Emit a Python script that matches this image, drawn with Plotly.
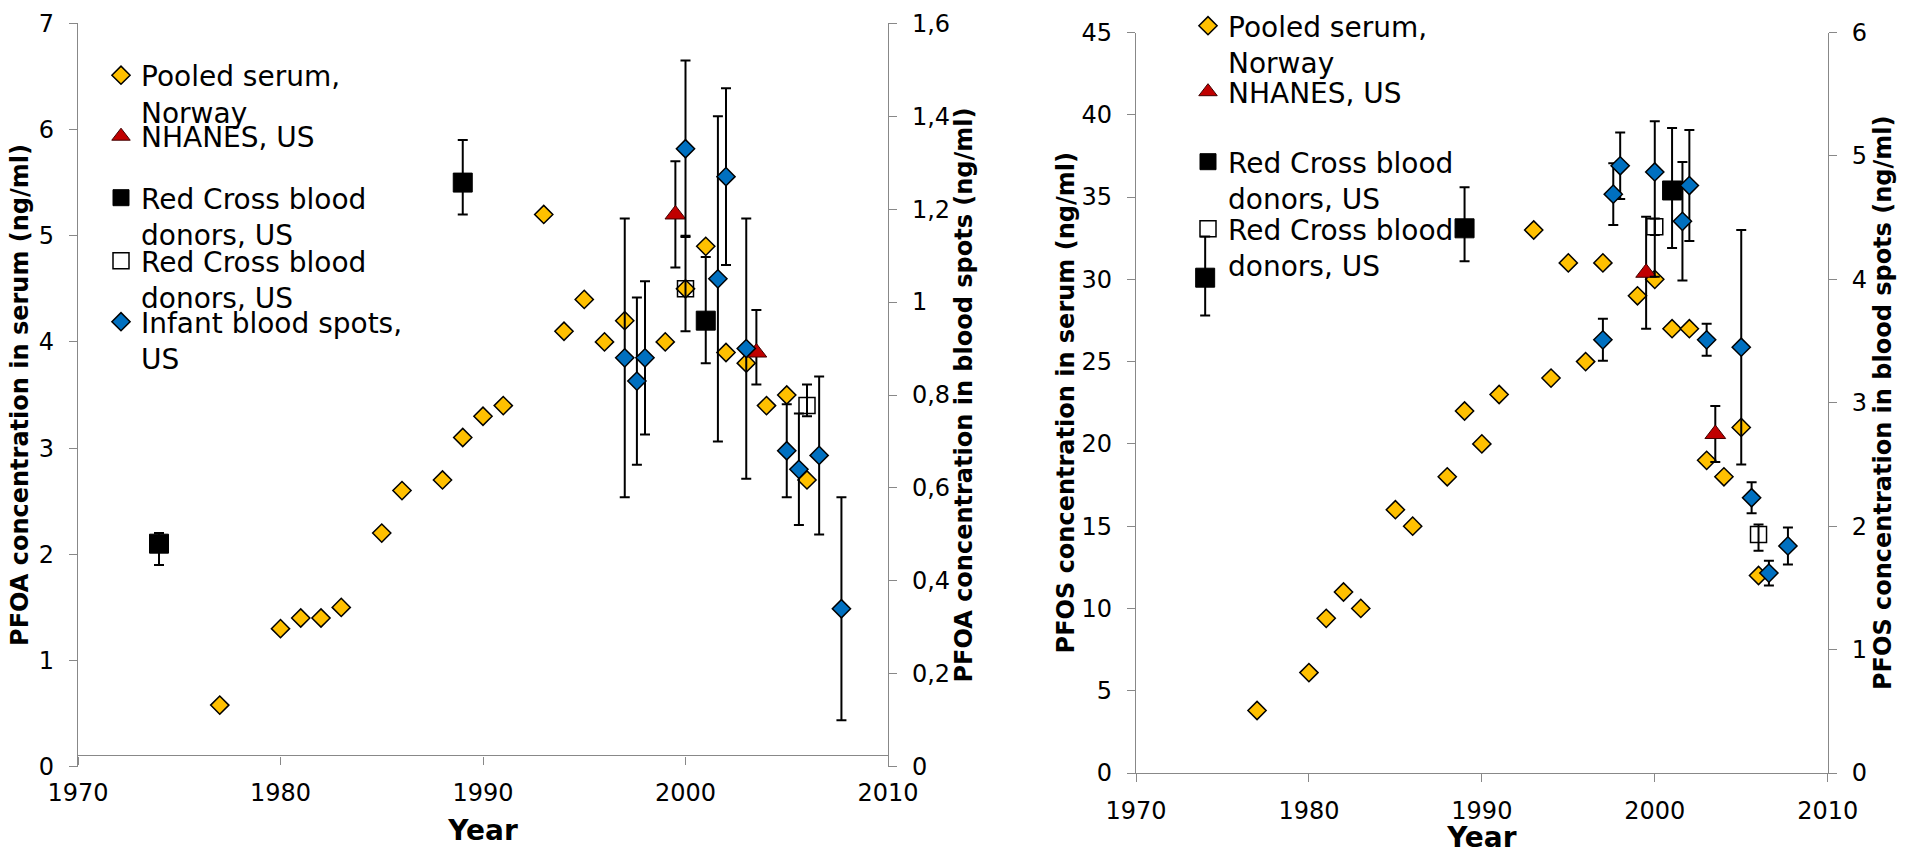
import plotly.graph_objects as go

# ---------------- data ----------------
years_pooled = [1977, 1980, 1981, 1982, 1983, 1985, 1986, 1988, 1989, 1990, 1991, 1993,
                1994, 1995, 1996, 1997, 1999, 2000, 2001, 2002, 2003, 2004, 2005, 2006]
pfoa_pooled = [0.58, 1.3, 1.4, 1.4, 1.5, 2.2, 2.6, 2.7, 3.1, 3.3, 3.4, 5.2,
               4.1, 4.4, 4.0, 4.2, 4.0, 4.5, 4.9, 3.9, 3.8, 3.4, 3.5, 2.7]
pfos_pooled = [3.8, 6.1, 9.4, 11, 10, 16, 15, 18, 22, 20, 23, 33,
               24, 31, 25, 31, 29, 30, 27, 27, 19, 18, 21, 12]

years_nhanes = [1999.5, 2003.5]
pfoa_nhanes = [5.2, 3.9]
pfoa_nhanes_plus = [0.5, 0.4]
pfoa_nhanes_minus = [0.5, 0.3]
pfos_nhanes = [30.4, 20.6]
pfos_nhanes_err = [3.4, 1.7]

years_rc_filled = [1974, 1989, 2001]
pfoa_rc_filled = [2.1, 5.5, 4.2]
pfoa_rc_filled_plus = [0.1, 0.4, 0.6]
pfoa_rc_filled_minus = [0.2, 0.3, 0.4]
pfos_rc_filled = [30.1, 33.1, 35.4]
pfos_rc_filled_plus = [2.5, 2.5, 3.8]
pfos_rc_filled_minus = [2.3, 2.0, 3.5]

years_rc_open = [2000, 2006]
pfoa_rc_open = [4.5, 3.4]
pfoa_rc_open_plus = [0.5, 0.2]
pfoa_rc_open_minus = [0.4, 0.1]
pfos_rc_open = [33.2, 14.5]
pfos_rc_open_plus = [0.5, 0.6]
pfos_rc_open_minus = [0.5, 1.0]

years_infant = [1997, 1997.6, 1998, 2000, 2001.6, 2002, 2003, 2005, 2005.6, 2006.6, 2007.7]
pfoa_infant = [0.88, 0.83, 0.88, 1.33, 1.05, 1.27, 0.90, 0.68, 0.64, 0.67, 0.34]
pfoa_infant_err = [0.30, 0.18, 0.165, 0.19, 0.35, 0.19, 0.28, 0.10, 0.12, 0.17, 0.24]
pfos_infant = [3.51, 4.69, 4.92, 4.87, 4.47, 4.76, 3.51, 3.45, 2.23, 1.62, 1.84]
pfos_infant_plus = [0.17, 0.25, 0.27, 0.41, 0.48, 0.45, 0.13, 0.95, 0.125, 0.10, 0.15]
pfos_infant_minus = [0.17, 0.25, 0.27, 0.85, 0.48, 0.45, 0.13, 0.95, 0.125, 0.10, 0.15]

names = ["Pooled serum,<br>Norway", "NHANES, US", "Red Cross blood<br>donors, US",
         "Red Cross blood<br>donors, US", "Infant blood spots,<br>US"]

# ---------------- styles ----------------
W, H = 1905, 854
FONT = "DejaVu Sans"
YELLOW, BLUE, RED = "#FFC000", "#0070C0", "#C00000"
AX = "#888888"

def px(x):
    return x / W

def py(y):
    return 1 - y / H

def err(plus, minus=None):
    d = dict(type="data", array=plus, visible=True, color="black", thickness=2, width=5)
    if minus is not None:
        d["symmetric"] = False
        d["arrayminus"] = minus
    return d

mk_pooled = dict(symbol="diamond", size=14, color=YELLOW, line=dict(color="black", width=1.5))
mk_infant = dict(symbol="diamond", size=14, color=BLUE, line=dict(color="black", width=1.5))
mk_nhanes = dict(symbol="triangle-up", size=18, color=RED, line=dict(color="#400000", width=1))
mk_rcf = dict(symbol="square", size=19, color="black", line=dict(color="black", width=1))
mk_rco = dict(symbol="square-open", size=16, color="black", line=dict(color="black", width=1.5))

fig = go.Figure()

# ---------- left chart (PFOA) ----------
fig.add_trace(go.Scatter(x=years_pooled, y=pfoa_pooled, mode="markers", marker=mk_pooled,
                         name=names[0], xaxis="x", yaxis="y", legend="legend"))
fig.add_trace(go.Scatter(x=years_nhanes, y=pfoa_nhanes, mode="markers", marker=mk_nhanes,
                         error_y=err(pfoa_nhanes_plus, pfoa_nhanes_minus),
                         name=names[1], xaxis="x", yaxis="y", legend="legend2"))
fig.add_trace(go.Scatter(x=years_rc_filled, y=pfoa_rc_filled, mode="markers", marker=mk_rcf,
                         error_y=err(pfoa_rc_filled_plus, pfoa_rc_filled_minus),
                         name=names[2], xaxis="x", yaxis="y", legend="legend3"))
fig.add_trace(go.Scatter(x=years_rc_open, y=pfoa_rc_open, mode="markers", marker=mk_rco,
                         error_y=err(pfoa_rc_open_plus, pfoa_rc_open_minus),
                         name=names[3], xaxis="x", yaxis="y", legend="legend4"))
fig.add_trace(go.Scatter(x=years_infant, y=pfoa_infant, mode="markers", marker=mk_infant,
                         error_y=err(pfoa_infant_err),
                         name=names[4], xaxis="x", yaxis="y2", legend="legend5"))

# ---------- right chart (PFOS) ----------
fig.add_trace(go.Scatter(x=years_pooled, y=pfos_pooled, mode="markers", marker=mk_pooled,
                         name=names[0], xaxis="x2", yaxis="y3", legend="legend6"))
fig.add_trace(go.Scatter(x=years_nhanes, y=pfos_nhanes, mode="markers", marker=mk_nhanes,
                         error_y=err(pfos_nhanes_err),
                         name=names[1], xaxis="x2", yaxis="y3", legend="legend7"))
fig.add_trace(go.Scatter(x=years_rc_filled, y=pfos_rc_filled, mode="markers", marker=mk_rcf,
                         error_y=err(pfos_rc_filled_plus, pfos_rc_filled_minus),
                         name=names[2], xaxis="x2", yaxis="y3", legend="legend8"))
fig.add_trace(go.Scatter(x=years_rc_open, y=pfos_rc_open, mode="markers", marker=mk_rco,
                         error_y=err(pfos_rc_open_plus, pfos_rc_open_minus),
                         name=names[3], xaxis="x2", yaxis="y3", legend="legend9"))
fig.add_trace(go.Scatter(x=years_infant, y=pfos_infant, mode="markers", marker=mk_infant,
                         error_y=err(pfos_infant_plus, pfos_infant_minus),
                         name=names[4], xaxis="x2", yaxis="y4", showlegend=False))

tickfont = dict(family=FONT, size=24, color="black")
titlefont = dict(family=FONT, size=24, color="black", weight="bold")
yearfont = dict(family=FONT, size=28, color="black", weight="bold")

def yax(**kw):
    d = dict(showline=True, linecolor=AX, linewidth=1.3, ticks="outside", ticklen=8,
             tickcolor=AX, tickwidth=1.3, showgrid=False, zeroline=False, tickfont=tickfont,
             ticklabelstandoff=10, fixedrange=True, automargin=False)
    d.update(kw)
    return d

def xax(**kw):
    d = dict(showline=True, linecolor=AX, linewidth=1.3, ticks="outside", ticklen=8,
             tickcolor=AX, tickwidth=1.3, showgrid=False, zeroline=False, tickfont=tickfont,
             range=[1970, 2010], tick0=1970, dtick=10, ticklabelstandoff=8, fixedrange=True,
             automargin=False)
    d.update(kw)
    return d

# geometry of the reference (pixels)
L_x0, L_x1, L_ytop, L_ybot, L_xline = 78, 888, 23.3, 766.7, 755.4
R_x0, R_x1, R_ytop, R_ybot = 1136, 1827.7, 32.5, 773

layout = dict(
    width=W, height=H, margin=dict(l=0, r=0, t=0, b=0, autoexpand=False),
    paper_bgcolor="white", plot_bgcolor="rgba(0,0,0,0)",
    separators=", ",
    font=dict(family=FONT, color="black"),
    xaxis=xax(domain=[px(L_x0), px(L_x1)], anchor="free", position=py(L_xline),
              title=dict(text="Year", font=yearfont, standoff=14)),
    yaxis=yax(domain=[py(L_ybot), py(L_ytop)], range=[0, 7], dtick=1, anchor="x",
              title=dict(text="PFOA concentration in serum (ng/ml)", font=titlefont, standoff=3)),
    yaxis2=yax(overlaying="y", side="right", anchor="x", range=[0, 1.6], dtick=0.2,
               title=dict(text="PFOA concentration in blood spots (ng/ml)", font=titlefont, standoff=6)),
    xaxis2=xax(domain=[px(R_x0), px(R_x1)], anchor="y3",
               title=dict(text="Year", font=yearfont, standoff=14)),
    yaxis3=yax(domain=[py(R_ybot), py(R_ytop)], range=[0, 45], dtick=5, anchor="x2",
               title=dict(text="PFOS concentration in serum (ng/ml)", font=titlefont, standoff=0)),
    yaxis4=yax(overlaying="y3", side="right", anchor="x2", range=[0, 6], dtick=1,
               title=dict(text="PFOS concentration in blood spots (ng/ml)", font=titlefont, standoff=8)),
)

# one legend per entry so each entry sits where it does in the reference
leg_font = dict(family=FONT, size=28, color="black")
left_leg_rows = [73.5, 134.5, 196, 259, 320]
right_leg_rows = [24, 90, 160, 227]
leg_keys = ["legend", "legend2", "legend3", "legend4", "legend5",
            "legend6", "legend7", "legend8", "legend9"]
positions = [(101, r) for r in left_leg_rows] + [(1188, r) for r in right_leg_rows]
for key, (lx, row) in zip(leg_keys, positions):
    layout[key] = dict(x=px(lx), y=py(row - 23), xanchor="left", yanchor="top",
                       font=leg_font, bgcolor="rgba(0,0,0,0)", borderwidth=0,
                       valign="top", itemclick=False, itemdoubleclick=False)

fig.update_layout(**layout)
fig.write_html("out.html")
